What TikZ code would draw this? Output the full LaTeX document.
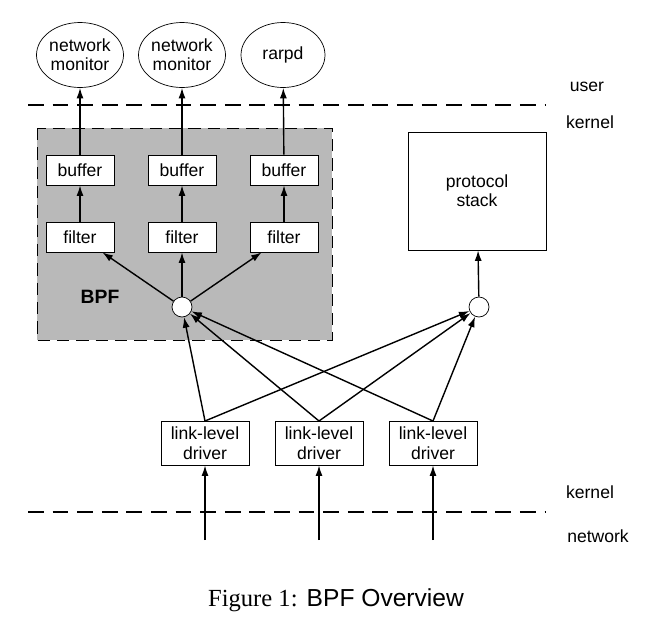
\documentclass[tikz,border=0pt]{standalone}
\usepackage{fontspec}
\setmainfont{Liberation Sans}
\newfontfamily\capserif{Liberation Serif}
\usetikzlibrary{arrows.meta,shapes.geometric}
\begin{document}
\begin{tikzpicture}[x=0.02cm,y=-0.02cm,font=\fontsize{10}{11}\selectfont,
  box/.style={draw,fill=white,minimum width=1.36cm,minimum height=0.6cm,inner sep=1pt},
  drv/.style={draw,fill=white,minimum width=1.76cm,minimum height=0.88cm,align=center,inner sep=1pt,text depth=0pt},
  proc/.style={draw,ellipse,minimum width=1.68cm,minimum height=1.3cm,align=center,inner sep=0pt,fill=white},
  circ/.style={draw,circle,minimum size=0.4cm,inner sep=0pt,fill=white},
  arr/.style={-{Latex[length=6pt,width=4pt]},thick},
  ln/.style={thick},
  dsh/.style={thick,dash pattern=on 9pt off 5pt}]
\useasboundingbox (0,0) rectangle (672,616);
\fill[gray!55] (37,128) rectangle (332,340);
\draw[dash pattern=on 7pt off 4pt] (37,128) rectangle (332,340);
\draw[dsh] (28,105) -- (545,105);
\draw[dsh] (28,512) -- (545,512);
\node (user) at (587,87) {user};
\node (k1) at (590,122) {kernel};
\node (k2) at (590,492) {kernel};
\node (net) at (598,536) {network};
\node[proc] (m1) at (80,55) {network\\monitor};
\node[proc] (m2) at (182,55) {network\\monitor};
\node[proc] (m3) at (283,55) {rarpd};
\foreach \i/\x in {1/80,2/182,3/284}{
  \node[box] (b\i) at (\x,170) {buffer};
  \node[box] (f\i) at (\x,237) {filter};
  \draw[arr] (f\i) -- (b\i);
  \draw[arr] (b\i) -- (m\i);
}
\node[font=\bfseries\fontsize{11}{12}\selectfont] (bpf) at (100,297) {BPF};
\node[circ] (c1) at (182,307) {};
\node[circ] (c2) at (479,307) {};
\node[draw,fill=white,minimum width=2.76cm,minimum height=2.36cm,align=center] (ps) at (477,191) {protocol\\stack};
\foreach \i in {1,2,3} \draw[arr] (c1) -- (f\i);
\draw[arr] (c2) -- (ps);
\node[drv] (d1) at (205,443) {link-level\\driver};
\node[drv] (d2) at (319,443) {link-level\\driver};
\node[drv] (d3) at (433,443) {link-level\\driver};
\foreach \i/\x in {1/205,2/319,3/433}{
  \coordinate (s\i) at (\x,540);
  \coordinate (t\i) at (\x,421);
  \draw[arr] (s\i) -- (d\i);
  \draw[arr] (t\i) -- (c1);
  \draw[arr] (t\i) -- (c2);
}
\node (cap) at (336,600) {\fontsize{14}{16}\selectfont{\capserif Figure 1:} BPF Overview};
\end{tikzpicture}
\end{document}
